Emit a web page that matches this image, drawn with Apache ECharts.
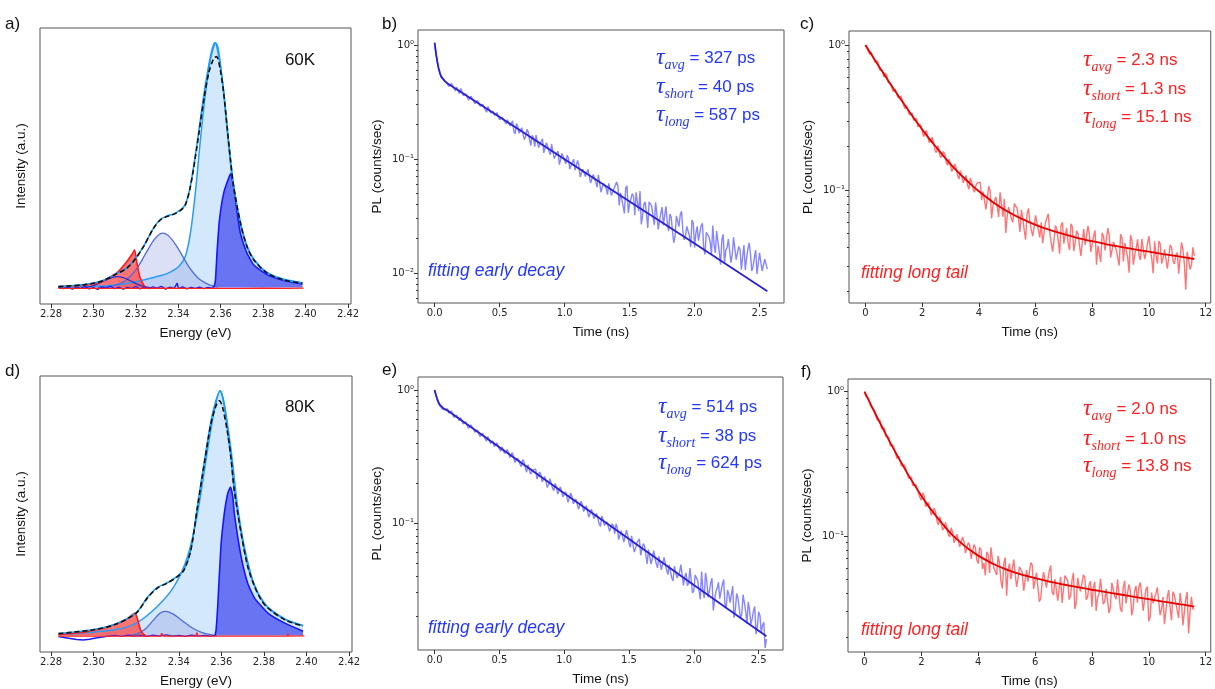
<!DOCTYPE html>
<html><head><meta charset="utf-8">
<script src="https://cdn.jsdelivr.net/npm/echarts@6.0.0/dist/echarts.min.js"></script>
<style>html,body{margin:0;padding:0;background:#fff}#c{width:1215px;height:689px}</style>
</head><body><div id="c"></div>
<script>
// ---------- tick labels ----------
const energyTicks = [2.28,2.30,2.32,2.34,2.36,2.38,2.40,2.42];
const earlyTimeTicks = [0,0.5,1.0,1.5,2.0,2.5];
const longTimeTicks = [0,2,4,6,8,10,12];
const logMajorTicks = [1,0.1,0.01];
const logMinorMantissas = [2,3,4,5,6,7,8,9];
const tempLabels = ['60K','80K'];
const panelLetters = ['a)','b)','c)','d)','e)','f)'];

// ---------- panel a (60K) PL spectrum, [energy eV, normalized intensity] ----------
const a60Total = [[2.2835,0.004],[2.2953,0.011],[2.300,0.018],[2.3047,0.029],[2.310,0.052],[2.3157,0.079],[2.320,0.120],[2.3236,0.167],[2.3283,0.242],[2.3315,0.276],[2.3346,0.290],[2.3378,0.299],[2.3409,0.314],[2.3433,0.337],[2.3457,0.412],[2.3488,0.576],[2.352,0.766],[2.3543,0.875],[2.3567,0.936],[2.358,0.943],[2.3598,0.888],[2.3614,0.793],[2.363,0.657],[2.3646,0.521],[2.3661,0.412],[2.3693,0.263],[2.3724,0.167],[2.3756,0.113],[2.3819,0.059],[2.3898,0.031],[2.3985,0.018]];
const a60Data = [[2.2835,0.004],[2.2953,0.012],[2.300,0.019],[2.3047,0.030],[2.310,0.053],[2.3157,0.080],[2.320,0.121],[2.3236,0.168],[2.3283,0.243],[2.3315,0.278],[2.3346,0.292],[2.3378,0.301],[2.3409,0.316],[2.3433,0.340],[2.3457,0.415],[2.3488,0.585],[2.352,0.785],[2.3543,0.905],[2.356,0.975],[2.3572,1.0],[2.358,0.99],[2.3598,0.905],[2.3614,0.80],[2.363,0.66],[2.3646,0.523],[2.3661,0.414],[2.3693,0.265],[2.3724,0.169],[2.3756,0.115],[2.3819,0.061],[2.3898,0.032],[2.3985,0.019]];
const a60PeakMain = [[2.2835,0.001],[2.300,0.004],[2.3099,0.011],[2.320,0.024],[2.3299,0.045],[2.335,0.058],[2.3402,0.086],[2.3433,0.127],[2.3457,0.222],[2.348,0.385],[2.3504,0.603],[2.3528,0.793],[2.3551,0.929],[2.3567,0.984],[2.3575,1.0],[2.3586,0.984],[2.3598,0.916],[2.3614,0.793],[2.363,0.644],[2.3646,0.507],[2.3661,0.399],[2.3693,0.256],[2.3724,0.167],[2.3756,0.116],[2.3819,0.061],[2.3898,0.034],[2.3984,0.020]];
const a60PeakShoulder = [[2.302,0.0],[2.306,0.003],[2.310,0.009],[2.315,0.028],[2.320,0.072],[2.325,0.145],[2.329,0.200],[2.3326,0.222],[2.336,0.206],[2.340,0.158],[2.345,0.085],[2.350,0.034],[2.355,0.010],[2.3585,0.002]];
const a60PeakSmall = [[2.296,0.0],[2.300,0.008],[2.305,0.027],[2.309,0.042],[2.311,0.045],[2.314,0.041],[2.317,0.030],[2.320,0.016],[2.324,0.004],[2.327,0.0]];
const a60PeakRed = [[2.2835,0.003],[2.2953,0.010],[2.3031,0.022],[2.311,0.060],[2.3157,0.106],[2.3181,0.135],[2.3194,0.154],[2.3205,0.10],[2.322,0.04],[2.324,0.006],[2.325,0.0]];
const a60PeakBlue = [[2.356,0.0],[2.3568,0.004],[2.3575,0.03],[2.3583,0.15],[2.3592,0.26],[2.3602,0.33],[2.3615,0.39],[2.363,0.43],[2.3646,0.465],[2.3655,0.44],[2.3665,0.385],[2.368,0.29],[2.3693,0.22],[2.3724,0.14],[2.3756,0.092],[2.3819,0.052],[2.3898,0.029],[2.3985,0.015]];
const a60BlueBase = [[2.2835,0.002],[2.286,-0.004],[2.288,0.003],[2.290,-0.006],[2.292,0.001],[2.294,-0.003],[2.296,0.004],[2.298,-0.005],[2.300,0.0],[2.302,-0.007],[2.304,0.003],[2.306,-0.002],[2.308,0.005],[2.310,-0.004],[2.312,0.002],[2.314,-0.006],[2.316,0.001],[2.318,-0.003],[2.320,0.004],[2.322,-0.005],[2.324,0.002],[2.326,-0.004],[2.328,0.003],[2.330,-0.002],[2.332,0.005],[2.334,-0.006],[2.336,0.002],[2.338,-0.003],[2.3395,0.018],[2.340,-0.004],[2.342,0.003],[2.344,-0.005],[2.346,0.001],[2.348,-0.003],[2.350,0.002],[2.352,-0.004],[2.354,0.001],[2.356,-0.002]];
const a60RedBase = [[2.2835,-0.003],[2.31,-0.003],[2.33,-0.002],[2.35,-0.003],[2.37,-0.003],[2.38,-0.002],[2.391,-0.003],[2.3913,0.005],[2.3916,-0.003],[2.399,-0.002]];

// ---------- panel d (80K) PL spectrum ----------
const d80Total = [[2.2835,0.008],[2.300,0.024],[2.310,0.045],[2.320,0.092],[2.3252,0.153],[2.3299,0.194],[2.3346,0.214],[2.3394,0.241],[2.3425,0.268],[2.3457,0.350],[2.3488,0.526],[2.352,0.702],[2.3551,0.864],[2.3575,0.939],[2.3591,0.959],[2.3606,0.932],[2.363,0.824],[2.3646,0.72],[2.3661,0.593],[2.3693,0.417],[2.3724,0.282],[2.3756,0.201],[2.3787,0.146],[2.3819,0.112],[2.3898,0.065],[2.3984,0.038]];
const d80Data = [[2.2835,0.008],[2.300,0.025],[2.310,0.046],[2.320,0.093],[2.3252,0.155],[2.3299,0.196],[2.3346,0.216],[2.3394,0.243],[2.3425,0.27],[2.3457,0.352],[2.3488,0.53],[2.352,0.71],[2.3551,0.875],[2.3575,0.96],[2.3594,1.0],[2.3606,0.975],[2.362,0.90],[2.363,0.83],[2.3646,0.72],[2.3661,0.595],[2.3693,0.42],[2.3724,0.285],[2.3756,0.204],[2.3787,0.149],[2.3819,0.115],[2.3898,0.068],[2.3984,0.041]];
const d80PeakMain = [[2.2835,0.004],[2.310,0.024],[2.320,0.051],[2.3299,0.119],[2.3378,0.201],[2.3441,0.322],[2.3488,0.499],[2.3535,0.756],[2.3567,0.919],[2.3594,1.0],[2.3614,0.946],[2.3646,0.756],[2.3677,0.526],[2.3709,0.36],[2.3756,0.205],[2.3819,0.115],[2.3898,0.067],[2.3984,0.040]];
const d80PeakShoulder = [[2.316,0.0],[2.320,0.006],[2.324,0.025],[2.328,0.062],[2.331,0.09],[2.3335,0.099],[2.337,0.09],[2.341,0.065],[2.346,0.033],[2.351,0.012],[2.356,0.002],[2.358,0.0]];
const d80PeakRed = [[2.2835,0.004],[2.2953,0.014],[2.3031,0.027],[2.310,0.045],[2.3157,0.068],[2.3194,0.092],[2.3205,0.072],[2.322,0.024],[2.3236,0.004],[2.3245,0.0]];
const d80PeakBlue = [[2.357,0.0],[2.3575,0.02],[2.3583,0.119],[2.3598,0.363],[2.3614,0.499],[2.363,0.58],[2.3643,0.607],[2.3654,0.566],[2.3661,0.499],[2.3693,0.322],[2.3724,0.214],[2.3756,0.153],[2.3819,0.092],[2.3898,0.051],[2.3984,0.018]];
const d80BlueBase = [[2.2835,-0.004],[2.286,-0.008],[2.289,-0.012],[2.292,-0.016],[2.295,-0.018],[2.298,-0.015],[2.301,-0.010],[2.304,-0.006],[2.307,-0.002],[2.310,0.001],[2.313,-0.003],[2.316,0.002],[2.319,-0.002],[2.322,0.001],[2.325,-0.003],[2.328,0.002],[2.331,-0.002],[2.334,0.003],[2.337,-0.002],[2.340,0.001],[2.343,-0.003],[2.346,0.002],[2.349,-0.002],[2.352,0.001],[2.355,-0.002],[2.357,0.0]];
const d80RedBase = [[2.2835,-0.002],[2.32,-0.002],[2.3315,-0.002],[2.332,0.01],[2.3325,-0.002],[2.348,-0.002],[2.3485,0.012],[2.349,-0.002],[2.37,-0.002],[2.391,-0.002],[2.3913,0.008],[2.3916,-0.002],[2.399,-0.001]];

// ---------- decays: early (b,e) grid 0.02 ns + mid-bins, long (c,f) grid 0.1 ns + mid-bins ----------
const earlyStep = 0.02;
const longStep = 0.1;
const decayB60 = [1.03,0.71,0.57,0.50,0.485,0.478,0.431,0.455,0.395,0.409,0.415,0.360,0.373,0.329,0.355,0.327,0.304,0.324,0.289,0.297,0.257,0.280,0.260,0.242,0.255,0.221,0.232,0.213,0.221,0.195,0.216,0.167,0.192,0.163,0.195,0.157,0.173,0.131,0.154,0.162,0.126,0.143,0.113,0.139,0.117,0.135,0.101,0.112,0.0893,0.112,0.0963,0.108,0.0816,0.0941,0.0797,0.0971,0.0696,0.0813,0.0703,0.0811,0.0614,0.0731,0.0627,0.0727,0.0511,0.0608,0.0553,0.0612,0.0479,0.0551,0.0628,0.0392,0.0521,0.0333,0.0581,0.0402,0.0497,0.0321,0.0417,0.0524,0.0319,0.0421,0.0248,0.0420,0.0317,0.0416,0.0241,0.0334,0.0263,0.0385,0.0233,0.0310,0.0184,0.0316,0.0255,0.0348,0.0195,0.0257,0.0212,0.0292,0.0167,0.0256,0.0186,0.0273,0.0145,0.0221,0.0185,0.0261,0.0150,0.0187,0.0118,0.0218,0.0158,0.0198,0.0123,0.0205,0.0131,0.0171,0.0107,0.0176,0.0135,0.0184,0.0104,0.0136,0.0098,0.0150,0.0104,0.0132,0.0108];
const decayB60Mid = [0.86,0.62,0.52,0.495,0.47,0.434,0.459,0.414,0.425,0.375,0.393,0.358,0.378,0.331,0.339,0.306,0.326,0.291,0.302,0.269,0.288,0.254,0.261,0.233,0.249,0.224,0.230,0.203,0.219,0.194,0.174,0.205,0.168,0.188,0.148,0.182,0.148,0.161,0.128,0.156,0.130,0.150,0.114,0.129,0.109,0.130,0.105,0.117,0.0899,0.112,0.0908,0.101,0.0803,0.0996,0.0808,0.0872,0.0676,0.0846,0.0684,0.0819,0.0625,0.0705,0.0565,0.0702,0.0570,0.0633,0.0487,0.0618,0.0492,0.0557,0.0583,0.0506,0.0385,0.0555,0.0337,0.0407,0.0468,0.0510,0.0348,0.0267,0.0402,0.0330,0.0421,0.0386,0.0264,0.0329,0.0233,0.0378,0.0266,0.0277,0.0328,0.0231,0.0209,0.0287,0.0326,0.0234,0.0211,0.0252,0.0168,0.0274,0.0223,0.0192,0.0259,0.0167,0.0227,0.0208,0.0147,0.0175,0.0233,0.0153,0.0196,0.0121,0.0167,0.0195,0.0146,0.0205,0.0127,0.0160,0.0138,0.0106,0.0162,0.0147,0.0114,0.0159,0.0099,0.0124,0.0108,0.0137];
const fitB60 = [[0,1.05],[0.01,0.85],[0.02,0.72],[0.03,0.63],[0.04,0.57],[0.05,0.53],[0.06,0.51],[0.08,0.48],[0.1,0.46],[0.5,0.233],[1.0,0.0994],[1.5,0.0424],[2.0,0.0181],[2.56,0.0069]];
const decayE80 = [1.00,0.84,0.76,0.72,0.71,0.721,0.658,0.690,0.611,0.628,0.621,0.555,0.577,0.516,0.547,0.509,0.478,0.502,0.454,0.475,0.412,0.434,0.403,0.375,0.401,0.359,0.373,0.333,0.356,0.310,0.338,0.285,0.308,0.276,0.300,0.261,0.274,0.233,0.252,0.254,0.216,0.231,0.200,0.226,0.196,0.214,0.175,0.188,0.160,0.182,0.164,0.177,0.143,0.158,0.138,0.156,0.124,0.137,0.123,0.135,0.108,0.123,0.109,0.120,0.0942,0.106,0.0969,0.105,0.0843,0.0953,0.0986,0.0750,0.0875,0.0719,0.0882,0.0705,0.0800,0.0605,0.0709,0.0760,0.0576,0.0670,0.0492,0.0651,0.0540,0.0622,0.0460,0.0543,0.0456,0.0557,0.0409,0.0496,0.0367,0.0474,0.0398,0.0486,0.0340,0.0422,0.0352,0.0456,0.0310,0.0411,0.0311,0.0431,0.0272,0.0366,0.0309,0.0384,0.0262,0.0323,0.0270,0.0345,0.0246,0.0314,0.0252,0.0336,0.0219,0.0275,0.0191,0.0289,0.0218,0.0255,0.0174,0.0218,0.0146,0.0215,0.0150,0.0179,0.0134];
const decayE80Mid = [0.92,0.79,0.74,0.72,0.705,0.668,0.694,0.621,0.645,0.588,0.617,0.541,0.562,0.518,0.544,0.481,0.500,0.447,0.474,0.428,0.448,0.397,0.413,0.377,0.391,0.346,0.374,0.328,0.341,0.302,0.330,0.277,0.311,0.265,0.288,0.241,0.278,0.237,0.251,0.214,0.242,0.204,0.223,0.185,0.215,0.183,0.198,0.165,0.187,0.157,0.172,0.143,0.168,0.140,0.151,0.127,0.146,0.122,0.135,0.111,0.127,0.108,0.118,0.0983,0.113,0.0960,0.102,0.0867,0.0987,0.0831,0.0918,0.0754,0.0893,0.0723,0.0808,0.0657,0.0801,0.0644,0.0705,0.0572,0.0699,0.0573,0.0632,0.0492,0.0620,0.0494,0.0562,0.0444,0.0551,0.0445,0.0485,0.0386,0.0473,0.0387,0.0427,0.0479,0.0393,0.0338,0.0459,0.0298,0.0407,0.0369,0.0267,0.0315,0.0421,0.0276,0.0354,0.0220,0.0304,0.0358,0.0266,0.0376,0.0230,0.0292,0.0255,0.0194,0.0295,0.0266,0.0207,0.0289,0.0175,0.0221,0.0190,0.0236,0.0165,0.0202,0.0171,0.0115];
const fitE80 = [[0,1.0],[0.01,0.92],[0.02,0.86],[0.03,0.81],[0.04,0.775],[0.05,0.75],[0.07,0.725],[0.1,0.70],[0.5,0.371],[1.0,0.1675],[1.5,0.0757],[2.0,0.0342],[2.56,0.0141]];
const decayC60 = [1.00,0.903,0.893,0.791,0.782,0.673,0.667,0.641,0.553,0.537,0.477,0.484,0.426,0.419,0.363,0.372,0.336,0.302,0.311,0.271,0.278,0.232,0.252,0.209,0.214,0.181,0.199,0.173,0.176,0.148,0.165,0.138,0.142,0.119,0.134,0.120,0.108,0.121,0.101,0.108,0.112,0.0850,0.0984,0.0757,0.0980,0.0783,0.0896,0.0652,0.0792,0.0865,0.0657,0.0766,0.0598,0.0796,0.0635,0.0729,0.0528,0.0681,0.0608,0.0480,0.0667,0.0530,0.0599,0.0426,0.0603,0.0509,0.0376,0.0567,0.0447,0.0571,0.0426,0.0547,0.0386,0.0553,0.0433,0.0494,0.0350,0.0538,0.0407,0.0492,0.0372,0.0526,0.0412,0.0319,0.0478,0.0371,0.0482,0.0340,0.0445,0.0393,0.0494,0.0321,0.0439,0.0269,0.0448,0.0358,0.0457,0.0329,0.0472,0.0370,0.0480,0.0335,0.0443,0.0311,0.0422,0.0339,0.0395,0.0285,0.0402,0.0309,0.0370,0.0270,0.0385,0.0205,0.0373,0.0302,0.0351];
const decayC60Mid = [0.984,0.863,0.870,0.756,0.748,0.663,0.600,0.614,0.562,0.493,0.495,0.432,0.442,0.382,0.381,0.330,0.338,0.299,0.273,0.281,0.234,0.257,0.212,0.231,0.188,0.202,0.167,0.184,0.155,0.163,0.134,0.151,0.126,0.136,0.112,0.126,0.101,0.113,0.0967,0.112,0.113,0.0973,0.0734,0.106,0.0637,0.0771,0.0883,0.0964,0.0654,0.0506,0.0761,0.0632,0.0805,0.0747,0.0513,0.0640,0.0454,0.0746,0.0531,0.0557,0.0660,0.0470,0.0429,0.0596,0.0684,0.0494,0.0445,0.0542,0.0363,0.0598,0.0491,0.0427,0.0584,0.0379,0.0524,0.0482,0.0348,0.0418,0.0566,0.0374,0.0484,0.0305,0.0423,0.0506,0.0382,0.0546,0.0342,0.0438,0.0385,0.0301,0.0467,0.0432,0.0341,0.0489,0.0305,0.0396,0.0354,0.0458,0.0334,0.0429,0.0388,0.0266,0.0352,0.0445,0.0311,0.0389,0.0286,0.0418,0.0324,0.0357,0.0264,0.0435,0.0308,0.0374,0.0283,0.0402];
const fitC60 = [[0,1.0],[0.25,0.836],[0.5,0.701],[0.75,0.590],[1,0.497],[1.25,0.421],[1.5,0.358],[1.75,0.305],[2,0.262],[2.25,0.226],[2.5,0.197],[2.75,0.172],[3,0.151],[3.25,0.134],[3.5,0.120],[3.75,0.108],[4,0.0979],[4.5,0.0824],[5,0.0714],[5.5,0.0634],[6,0.0575],[6.5,0.0530],[7,0.0495],[7.5,0.0466],[8,0.0443],[8.5,0.0422],[9,0.0405],[9.5,0.0389],[10,0.0375],[10.5,0.0361],[11,0.0349],[11.6,0.0334]];
const decayF80 = [1.00,0.938,0.806,0.789,0.679,0.646,0.556,0.558,0.481,0.424,0.426,0.366,0.357,0.307,0.311,0.269,0.259,0.223,0.228,0.198,0.177,0.190,0.160,0.170,0.138,0.146,0.119,0.134,0.114,0.123,0.0986,0.106,0.0875,0.104,0.0851,0.0913,0.0765,0.0867,0.0692,0.0828,0.0643,0.0796,0.0651,0.0777,0.0554,0.0684,0.0568,0.0729,0.0485,0.0644,0.0386,0.0644,0.0487,0.0670,0.0506,0.0629,0.0417,0.0581,0.0491,0.0628,0.0418,0.0544,0.0369,0.0562,0.0439,0.0570,0.0407,0.0502,0.0356,0.0521,0.0424,0.0548,0.0362,0.0494,0.0312,0.0513,0.0412,0.0538,0.0362,0.0461,0.0322,0.0480,0.0375,0.0505,0.0337,0.0432,0.0292,0.0474,0.0382,0.0498,0.0314,0.0437,0.0341,0.0461,0.0282,0.0416,0.0345,0.0477,0.0303,0.0426,0.0256,0.0405,0.0337,0.0441,0.0283,0.0379,0.0300,0.0422,0.0261,0.0389,0.0305,0.0403,0.0240,0.0365,0.0211,0.0379,0.0311];
const decayF80Mid = [0.926,0.896,0.778,0.740,0.636,0.629,0.543,0.488,0.484,0.414,0.401,0.344,0.346,0.299,0.294,0.251,0.256,0.220,0.215,0.185,0.199,0.160,0.171,0.139,0.156,0.127,0.136,0.110,0.124,0.102,0.114,0.0896,0.103,0.0841,0.0983,0.0761,0.0899,0.0695,0.0872,0.0683,0.0836,0.0590,0.0534,0.0735,0.0835,0.0600,0.0537,0.0649,0.0433,0.0708,0.0580,0.0502,0.0686,0.0443,0.0612,0.0560,0.0404,0.0483,0.0653,0.0430,0.0558,0.0351,0.0486,0.0578,0.0437,0.0625,0.0390,0.0499,0.0439,0.0343,0.0532,0.0491,0.0388,0.0554,0.0346,0.0449,0.0401,0.0518,0.0378,0.0485,0.0439,0.0302,0.0398,0.0503,0.0352,0.0438,0.0322,0.0472,0.0364,0.0402,0.0297,0.0489,0.0347,0.0420,0.0318,0.0451,0.0441,0.0390,0.0302,0.0447,0.0276,0.0342,0.0400,0.0447,0.0310,0.0245,0.0375,0.0317,0.0410,0.0388,0.0270,0.0342,0.0246,0.0409,0.0295,0.0312];
const fitF80 = [[0,1.0],[0.25,0.794],[0.5,0.633],[0.75,0.508],[1,0.410],[1.25,0.334],[1.5,0.274],[1.75,0.227],[2,0.190],[2.25,0.161],[2.5,0.139],[2.75,0.121],[3,0.106],[3.25,0.0951],[3.5,0.0861],[3.75,0.0789],[4,0.0731],[4.5,0.0645],[5,0.0585],[5.5,0.0542],[6,0.0510],[6.5,0.0483],[7,0.0461],[7.5,0.0442],[8,0.0424],[8.5,0.0408],[9,0.0393],[9.5,0.0378],[10,0.0365],[10.5,0.0351],[11,0.0339],[11.6,0.0324]];

// lifetimes text
const lifeB = ['327 ps','40 ps','587 ps'];
const lifeC = ['2.3 ns','1.3 ns','15.1 ns'];
const lifeE = ['514 ps','38 ps','624 ps'];
const lifeF = ['2.0 ns','1.0 ns','13.8 ns'];
const tauSubs = ['avg','short','long'];

// ---------- layout ----------
const grids = [
  {left:40, top:28, width:311, height:276},
  {left:418, top:30, width:366, height:273},
  {left:849, top:31, width:364, height:272},
  {left:40, top:376, width:312, height:276},
  {left:418, top:377, width:365, height:273},
  {left:848, top:379, width:365, height:273}
].map(g => Object.assign({show:true, borderColor:'#555', borderWidth:1, backgroundColor:'transparent', containLabel:false}, g));

const tickFont = {fontFamily:'DejaVu Sans', fontSize:10, color:'#262626'};
const nameFont = {fontFamily:'Liberation Sans', fontSize:13.5, color:'#111'};
const BLUE_TXT = '#2437ff', RED_TXT = '#ff1f1f';

function xAx(gi, min, max, ticks, dec, name) {
  return {gridIndex:gi, type:'value', position:'bottom', min, max, axisLine:{show:false, onZero:false}, splitLine:{show:false},
    axisTick:{show:true, length:4, customValues:ticks, lineStyle:{color:'#333', width:1}},
    axisLabel:Object.assign({customValues:ticks, margin:5, formatter:v=>Number(v).toFixed(dec)}, tickFont),
    name, nameLocation:'middle', nameGap:22, nameTextStyle:nameFont};
}
const supMap = {'0':'⁰','-1':'⁻¹','-2':'⁻²'};
function logAx(gi, min, max, name) {
  const majors = logMajorTicks.filter(v => v >= min && v <= max);
  return {gridIndex:gi, type:'log', logBase:10, position:'left', min, max, axisLine:{show:false, onZero:false}, splitLine:{show:false}, minorTick:{show:false},
    axisTick:{show:true, length:4, customValues:majors, lineStyle:{color:'#333'}},
    axisLabel:Object.assign({customValues:majors, margin:4, formatter:v=>'10'+supMap[String(Math.round(Math.log10(v)))]}, tickFont),
    name, nameLocation:'middle', nameGap:34, nameTextStyle:nameFont};
}
function minorAx(gi, min, max) {
  const vals = [];
  [-3,-2,-1,0].forEach(e => logMinorMantissas.forEach(m => { const v = m*Math.pow(10,e); if (v > min && v < max) vals.push(v); }));
  return {gridIndex:gi, type:'log', logBase:10, position:'left', offset:0, min, max, axisLine:{show:false, onZero:false}, splitLine:{show:false},
    axisTick:{show:true, length:2, customValues:vals, lineStyle:{color:'#333'}}, axisLabel:{show:false}};
}
function linYAx(gi) {
  return {gridIndex:gi, type:'value', position:'left', min:-0.067, max:1.06, axisLine:{show:false, onZero:false}, splitLine:{show:false},
    axisTick:{show:false}, axisLabel:{show:false}, name:'Intensity (a.u.)', nameLocation:'middle', nameGap:12, nameTextStyle:nameFont};
}

const xAxes = [
  xAx(0, 2.2748, 2.4214, energyTicks, 2, 'Energy (eV)'),
  xAx(1, -0.128, 2.688, earlyTimeTicks, 1, 'Time (ns)'),
  xAx(2, -0.58, 12.18, longTimeTicks, 0, 'Time (ns)'),
  xAx(3, 2.2748, 2.4214, energyTicks, 2, 'Energy (eV)'),
  xAx(4, -0.128, 2.688, earlyTimeTicks, 1, 'Time (ns)'),
  xAx(5, -0.58, 12.18, longTimeTicks, 0, 'Time (ns)')
];
const yAxes = [
  linYAx(0),
  logAx(1, 0.00545, 1.354, 'PL (counts/sec)'),
  logAx(2, 0.0166, 1.25, 'PL (counts/sec)'),
  linYAx(3),
  logAx(4, 0.0111, 1.252, 'PL (counts/sec)'),
  logAx(5, 0.0157, 1.225, 'PL (counts/sec)'),
  minorAx(1, 0.00545, 1.354),
  minorAx(2, 0.0166, 1.25),
  minorAx(4, 0.0111, 1.252),
  minorAx(5, 0.0157, 1.225)
];

const series = [];
function add(s) { series.push(Object.assign({type:'line', showSymbol:false, symbol:'none', animation:false, silent:true, clip:true}, s)); }

function spectrum(ax, main, shoulder, small, red, blue, blueBase, redBase, data, total) {
  add({xAxisIndex:ax, yAxisIndex:ax, data:main, smooth:0.3, lineStyle:{color:'#2a9cf2', width:1.5}, areaStyle:{color:'#d3e8fa', opacity:1}});
  add({xAxisIndex:ax, yAxisIndex:ax, data:shoulder, smooth:0.35, lineStyle:{color:'#4f6bd9', width:1.3}, areaStyle:{color:'rgba(130,145,225,0.28)', opacity:1}});
  if (small) add({xAxisIndex:ax, yAxisIndex:ax, data:small, smooth:0.35, lineStyle:{color:'#2e2ecb', width:1.3}});
  add({xAxisIndex:ax, yAxisIndex:ax, data:red, smooth:0.15, lineStyle:{color:'#ff1a1a', width:1.6}, areaStyle:{color:'rgba(255,50,50,0.68)', opacity:1}});
  add({xAxisIndex:ax, yAxisIndex:ax, data:blue, smooth:0.15, lineStyle:{color:'#1616ff', width:1.6}, areaStyle:{color:'rgba(45,50,240,0.64)', opacity:1}});
  add({xAxisIndex:ax, yAxisIndex:ax, data:blueBase, lineStyle:{color:'#1a1aff', width:1.4}});
  add({xAxisIndex:ax, yAxisIndex:ax, data:redBase, lineStyle:{color:'#ff2020', width:1.4}});
  add({xAxisIndex:ax, yAxisIndex:ax, data:data, smooth:0.3, lineStyle:{color:'#1e9cf5', width:1.6}});
  add({xAxisIndex:ax, yAxisIndex:ax, data:total, smooth:0.3, lineStyle:{color:'#111', width:1.6, type:[5,3]}});
}
spectrum(0, a60PeakMain, a60PeakShoulder, a60PeakSmall, a60PeakRed, a60PeakBlue, a60BlueBase, a60RedBase, a60Data, a60Total);
spectrum(3, d80PeakMain, d80PeakShoulder, null, d80PeakRed, d80PeakBlue, d80BlueBase, d80RedBase, d80Data, d80Total);

function interleave(vals, mids, step) {
  const out = [];
  vals.forEach((v,i) => {
    out.push([+(i*step).toFixed(4), v]);
    if (i < mids.length) out.push([+((i+0.5)*step).toFixed(4), mids[i]]);
  });
  return out;
}
function decay(ax, vals, mids, step, fit, dataColor, fitColor, smoothFit) {
  add({xAxisIndex:ax, yAxisIndex:ax, data:interleave(vals, mids, step), lineStyle:{color:dataColor, width:1.4}});
  add({xAxisIndex:ax, yAxisIndex:ax, data:fit, smooth:smoothFit, lineStyle:{color:fitColor, width:1.8}});
}
decay(1, decayB60, decayB60Mid, earlyStep, fitB60, '#8585ff', '#2a20d4', false);
decay(2, decayC60, decayC60Mid, longStep, fitC60, '#ff7575', '#e60000', 0.3);
decay(4, decayE80, decayE80Mid, earlyStep, fitE80, '#8585ff', '#2a20d4', false);
decay(5, decayF80, decayF80Mid, longStep, fitF80, '#ff7575', '#e60000', 0.3);

// ---------- text graphics ----------
const graphics = [];
function txt(x, y, text, font, color, align) {
  graphics.push({type:'text', x, y, silent:true, style:{text, fill:color||'#111', align:align||'left', verticalAlign:'middle',
    fontFamily:font.family, fontSize:font.size, fontStyle:font.style||'normal'}});
}
const letterPos = [[5,24],[382,24],[800,24],[5,371],[382,370],[801,372]];
panelLetters.forEach((l,i)=>txt(letterPos[i][0], letterPos[i][1], l, {family:'Liberation Sans', size:17}, '#111'));
txt(300, 60, tempLabels[0], {family:'Liberation Sans', size:17}, '#111', 'center');
txt(300, 407, tempLabels[1], {family:'Liberation Sans', size:17}, '#111', 'center');

function tauBlock(x, ys, vals, color) {
  vals.forEach((v,i) => {
    graphics.push({type:'text', x, y:ys[i], silent:true, style:{
      text:'{t|τ}{s|'+tauSubs[i]+'}{n| = '+v+'}', align:'left', verticalAlign:'middle',
      rich:{
        t:{fontFamily:'Liberation Serif', fontStyle:'italic', fontSize:24, fill:color},
        s:{fontFamily:'Liberation Serif', fontStyle:'italic', fontSize:14, fill:color, padding:[14,0,0,0]},
        n:{fontFamily:'Liberation Sans', fontSize:17, fill:color}
      }}});
  });
}
tauBlock(656, [58,87,115], lifeB, BLUE_TXT);
tauBlock(1083, [60,89,117], lifeC, RED_TXT);
tauBlock(658, [407,436,463], lifeE, BLUE_TXT);
tauBlock(1083, [409,439,466], lifeF, RED_TXT);
const italic = {family:'Liberation Sans', size:17.5, style:'italic'};
txt(428, 271, 'fitting early decay', italic, BLUE_TXT);
txt(428, 628, 'fitting early decay', italic, BLUE_TXT);
txt(861, 273, 'fitting long tail', italic, RED_TXT);
txt(861, 630, 'fitting long tail', italic, RED_TXT);

const chart = echarts.init(document.getElementById('c'), null, {renderer:'canvas'});
chart.setOption({animation:false, backgroundColor:'#fff', grid:grids, xAxis:xAxes, yAxis:yAxes, series, graphic:graphics});
</script></body></html>
